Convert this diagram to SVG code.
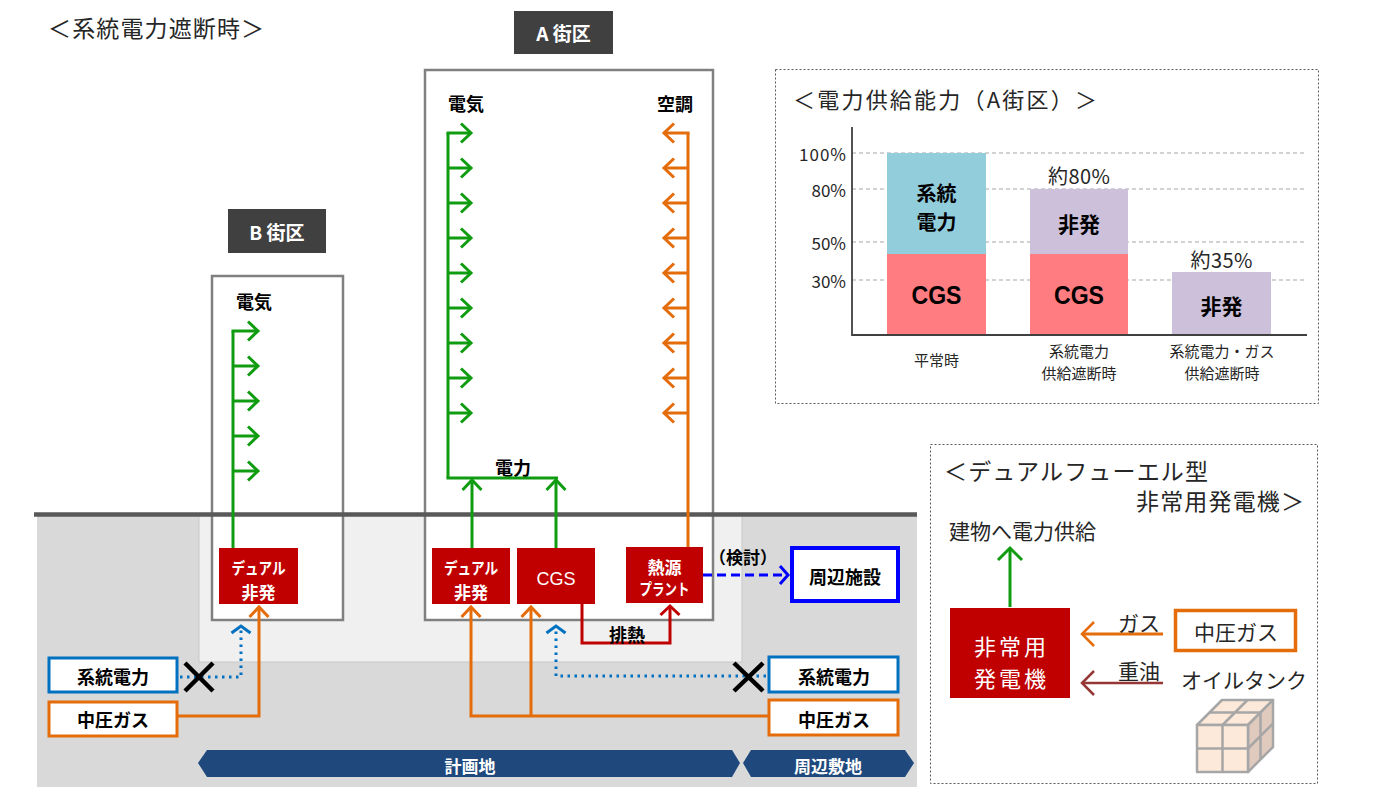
<svg xmlns="http://www.w3.org/2000/svg" width="1382" height="787" viewBox="0 0 1382 787">
  <defs>
    <style>
      text { font-family: "Noto Sans CJK JP", "Liberation Sans", sans-serif; dominant-baseline: central; }
      .b { font-weight: 700; }
      .w { fill: #ffffff; }
      .k { fill: #000000; }
      .g { fill: #262626; }
      .mid { text-anchor: middle; }
      .end { text-anchor: end; }
      .tag { fill: #404040; }
      .blk { fill: #ffffff; stroke: #808080; stroke-width: 2.5; }
      .red { fill: #c00000; }
      .ln-g { fill: none; stroke: #109c10; stroke-width: 3; }
      .ln-o { fill: none; stroke: #e46c0a; stroke-width: 3; }
      .ln-r { fill: none; stroke: #c00000; stroke-width: 3; }
      .ln-b { fill: none; stroke: #0070c0; stroke-width: 3; stroke-dasharray: 2.5 4.5; }
      .ln-d { fill: none; stroke: #0000ff; stroke-width: 3; stroke-dasharray: 9 5; }
      .ln-oil { fill: none; stroke: #953735; stroke-width: 2.5; }
      .xmark { stroke: #000000; stroke-width: 4.5; }
      .grid { stroke: #a6a6a6; stroke-width: 1.2; stroke-dasharray: 4 3; }
      .frame { fill: #ffffff; stroke: #595959; stroke-width: 1; stroke-dasharray: 2 2; }
      .tank { stroke: #a6a6a6; stroke-width: 2.5; stroke-linejoin: round; }
      .sans { font-family: "Liberation Sans", sans-serif; }
    </style>
    <marker id="ah-g" viewBox="-14 -14 28 28" markerWidth="28" markerHeight="28" refX="0" refY="0" orient="auto" markerUnits="userSpaceOnUse" overflow="visible">
      <path d="M-10,-9.5 L0,0 L-10,9.5" fill="none" stroke="#109c10" stroke-width="3"/>
    </marker>
    <marker id="ah-g2" viewBox="-14 -14 28 28" markerWidth="28" markerHeight="28" refX="0" refY="0" orient="auto" markerUnits="userSpaceOnUse" overflow="visible">
      <path d="M-12,-12 L0,0 L-12,12" fill="none" stroke="#109c10" stroke-width="3"/>
    </marker>
    <marker id="ah-o" viewBox="-14 -14 28 28" markerWidth="28" markerHeight="28" refX="0" refY="0" orient="auto" markerUnits="userSpaceOnUse" overflow="visible">
      <path d="M-10,-9.5 L0,0 L-10,9.5" fill="none" stroke="#e46c0a" stroke-width="3"/>
    </marker>
    <marker id="ah-o2" viewBox="-14 -14 28 28" markerWidth="28" markerHeight="28" refX="0" refY="0" orient="auto" markerUnits="userSpaceOnUse" overflow="visible">
      <path d="M-12,-12 L0,0 L-12,12" fill="none" stroke="#e46c0a" stroke-width="2.5"/>
    </marker>
    <marker id="ah-r" viewBox="-14 -14 28 28" markerWidth="28" markerHeight="28" refX="0" refY="0" orient="auto" markerUnits="userSpaceOnUse" overflow="visible">
      <path d="M-9,-9.5 L0,0 L-9,9.5" fill="none" stroke="#c00000" stroke-width="3"/>
    </marker>
    <marker id="ah-b" viewBox="-14 -14 28 28" markerWidth="28" markerHeight="28" refX="0" refY="0" orient="auto" markerUnits="userSpaceOnUse" overflow="visible">
      <path d="M-7,-9.5 L0,0 L-7,9.5" fill="none" stroke="#0070c0" stroke-width="3"/>
    </marker>
    <marker id="ah-d" viewBox="-14 -14 28 28" markerWidth="28" markerHeight="28" refX="0" refY="0" orient="auto" markerUnits="userSpaceOnUse" overflow="visible">
      <path d="M-8,-9 L0,0 L-8,9" fill="none" stroke="#0000ff" stroke-width="3"/>
    </marker>
    <marker id="ah-oil" viewBox="-14 -14 28 28" markerWidth="28" markerHeight="28" refX="0" refY="0" orient="auto" markerUnits="userSpaceOnUse" overflow="visible">
      <path d="M-12,-12 L0,0 L-12,12" fill="none" stroke="#953735" stroke-width="2.5"/>
    </marker>
  </defs>

  <rect x="0" y="0" width="1382" height="787" fill="#ffffff"/>

  <!-- site ground: grey band, light sub-panel -->
  <g id="ground">
    <rect x="37" y="515" width="880" height="272" fill="#d9d9d9"/>
    <rect x="199" y="515" width="543" height="147" fill="#f0f0f0" stroke="#c8c8c8" stroke-width="1"/>
  </g>

  <!-- title -->
  <text x="48" y="27" font-size="23" class="g" textLength="216" lengthAdjust="spacing">＜系統電力遮断時＞</text>

  <!-- block outlines -->
  <g id="block-b">
    <rect class="blk" x="212" y="276" width="131" height="344"/>
    <rect class="tag" x="228" y="209" width="98" height="44"/>
    <text x="277" y="231" font-size="19" class="b w mid">B 街区</text>
    <text x="254" y="301" font-size="18" class="b k mid">電気</text>
  </g>
  <g id="block-a">
    <rect class="blk" x="425" y="70" width="288" height="550"/>
    <rect class="tag" x="514" y="11" width="99" height="43"/>
    <text x="563.5" y="32" font-size="19" class="b w mid">A 街区</text>
    <text x="466" y="103" font-size="18" class="b k mid">電気</text>
    <text x="675" y="103" font-size="18" class="b k mid">空調</text>
    <text x="513" y="467" font-size="18" class="b k mid">電力</text>
  </g>

  <!-- ground line -->
  <line x1="34" y1="514.5" x2="917" y2="514.5" stroke="#595959" stroke-width="4.5"/>

  <!-- connectors -->
  <g id="connectors">
    <!-- block B power distribution -->
    <path class="ln-g" d="M233,548 V331"/>
    <line class="ln-g" x1="231.5" y1="331" x2="258" y2="331" marker-end="url(#ah-g)"/>
    <line class="ln-g" x1="233" y1="366" x2="258" y2="366" marker-end="url(#ah-g)"/>
    <line class="ln-g" x1="233" y1="401" x2="258" y2="401" marker-end="url(#ah-g)"/>
    <line class="ln-g" x1="233" y1="436" x2="258" y2="436" marker-end="url(#ah-g)"/>
    <line class="ln-g" x1="233" y1="471" x2="258" y2="471" marker-end="url(#ah-g)"/>

    <!-- block A power distribution -->
    <path class="ln-g" d="M448,478 V133"/>
    <line class="ln-g" x1="446.5" y1="133" x2="471" y2="133" marker-end="url(#ah-g)"/>
    <line class="ln-g" x1="448" y1="168" x2="471" y2="168" marker-end="url(#ah-g)"/>
    <line class="ln-g" x1="448" y1="203" x2="471" y2="203" marker-end="url(#ah-g)"/>
    <line class="ln-g" x1="448" y1="238" x2="471" y2="238" marker-end="url(#ah-g)"/>
    <line class="ln-g" x1="448" y1="273" x2="471" y2="273" marker-end="url(#ah-g)"/>
    <line class="ln-g" x1="448" y1="308" x2="471" y2="308" marker-end="url(#ah-g)"/>
    <line class="ln-g" x1="448" y1="343" x2="471" y2="343" marker-end="url(#ah-g)"/>
    <line class="ln-g" x1="448" y1="378" x2="471" y2="378" marker-end="url(#ah-g)"/>
    <line class="ln-g" x1="448" y1="413" x2="471" y2="413" marker-end="url(#ah-g)"/>
    <line class="ln-g" x1="446.5" y1="478" x2="558" y2="478"/>
    <line class="ln-g" x1="472" y1="548" x2="472" y2="480" marker-end="url(#ah-g)"/>
    <line class="ln-g" x1="556" y1="548" x2="556" y2="480" marker-end="url(#ah-g)"/>

    <!-- block A air conditioning -->
    <path class="ln-o" d="M688,547 V133"/>
    <line class="ln-o" x1="689.5" y1="133" x2="664" y2="133" marker-end="url(#ah-o)"/>
    <line class="ln-o" x1="688" y1="168" x2="664" y2="168" marker-end="url(#ah-o)"/>
    <line class="ln-o" x1="688" y1="203" x2="664" y2="203" marker-end="url(#ah-o)"/>
    <line class="ln-o" x1="688" y1="238" x2="664" y2="238" marker-end="url(#ah-o)"/>
    <line class="ln-o" x1="688" y1="273" x2="664" y2="273" marker-end="url(#ah-o)"/>
    <line class="ln-o" x1="688" y1="308" x2="664" y2="308" marker-end="url(#ah-o)"/>
    <line class="ln-o" x1="688" y1="343" x2="664" y2="343" marker-end="url(#ah-o)"/>
    <line class="ln-o" x1="688" y1="378" x2="664" y2="378" marker-end="url(#ah-o)"/>
    <line class="ln-o" x1="688" y1="413" x2="664" y2="413" marker-end="url(#ah-o)"/>

    <!-- supply lines, block B -->
    <path class="ln-b" d="M180,677 H241 V626" marker-end="url(#ah-b)"/>
    <path class="ln-o" d="M178,716 H259 V607" marker-end="url(#ah-o)"/>

    <!-- supply lines, block A -->
    <path class="ln-b" d="M766,676 H556 V626" marker-end="url(#ah-b)"/>
    <path class="ln-o" d="M768,716 H471 V607" marker-end="url(#ah-o)"/>
    <path class="ln-o" d="M531,716 V607" marker-end="url(#ah-o)"/>
    <path class="ln-r" d="M582,604 V643 H670 V606" marker-end="url(#ah-r)"/>
    <line class="ln-d" x1="703" y1="575" x2="788" y2="575" marker-end="url(#ah-d)"/>

    <!-- cut-off marks -->
    <path class="xmark" d="M185,663 L213,691 M185,691 L213,663"/>
    <path class="xmark" d="M734,663 L763,691 M734,691 L763,663"/>
  </g>

  <text x="627" y="634" font-size="18" class="b k mid">排熱</text>
  <text x="743" y="556" font-size="17" class="b k mid">（検討）</text>

  <!-- generator units -->
  <g id="b-dual">
    <rect class="red" x="219" y="548" width="79" height="56"/>
    <text x="258.5" y="567" font-size="16" class="b w mid" textLength="54" lengthAdjust="spacingAndGlyphs">デュアル</text>
    <text x="258.5" y="591" font-size="17" class="b w mid">非発</text>
  </g>
  <g id="a-dual">
    <rect class="red" x="432" y="548" width="78" height="56"/>
    <text x="471" y="567" font-size="16" class="b w mid" textLength="54" lengthAdjust="spacingAndGlyphs">デュアル</text>
    <text x="471" y="591" font-size="17" class="b w mid">非発</text>
  </g>
  <g id="a-cgs">
    <rect class="red" x="517" y="548" width="78" height="56"/>
    <text x="556" y="579" font-size="18" class="w mid sans">CGS</text>
  </g>
  <g id="a-heat">
    <rect class="red" x="626" y="547" width="77" height="56"/>
    <text x="664.5" y="566" font-size="17" class="b w mid">熱源</text>
    <text x="664.5" y="588" font-size="16" class="b w mid" textLength="50" lengthAdjust="spacingAndGlyphs">プラント</text>
  </g>
  <g id="nearby">
    <rect x="792" y="548" width="106" height="53" fill="#ffffff" stroke="#0000ff" stroke-width="4"/>
    <text x="845" y="576" font-size="18" class="b k mid">周辺施設</text>
  </g>

  <!-- utility sources -->
  <g id="grid-b">
    <rect x="49" y="658" width="128" height="34" fill="#ffffff" stroke="#0070c0" stroke-width="3"/>
    <text x="113" y="676" font-size="18" class="b k mid">系統電力</text>
  </g>
  <g id="gas-b">
    <rect x="49" y="702" width="128" height="34" fill="#ffffff" stroke="#e46c0a" stroke-width="3"/>
    <text x="113" y="719" font-size="18" class="b k mid">中圧ガス</text>
  </g>
  <g id="grid-a">
    <rect x="769" y="657" width="129" height="35" fill="#ffffff" stroke="#0070c0" stroke-width="3"/>
    <text x="834" y="676" font-size="18" class="b k mid">系統電力</text>
  </g>
  <g id="gas-a">
    <rect x="769" y="700" width="129" height="35" fill="#ffffff" stroke="#e46c0a" stroke-width="3"/>
    <text x="834" y="719" font-size="18" class="b k mid">中圧ガス</text>
  </g>

  <!-- area labels -->
  <g id="area-plan">
    <polygon points="198,763 207,750 732,750 740,763 732,777 207,777" fill="#1f497d"/>
    <text x="470" y="765" font-size="17" class="b w mid">計画地</text>
  </g>
  <g id="area-nearby">
    <polygon points="743,763 751,750 905,750 914,763 905,777 751,777" fill="#1f497d"/>
    <text x="828" y="765" font-size="17" class="b w mid">周辺敷地</text>
  </g>

  <!-- supply capacity chart -->
  <g id="chart">
    <rect class="frame" x="775.5" y="69.5" width="543" height="334"/>
    <text x="793" y="98" font-size="22" class="g" textLength="304" lengthAdjust="spacing">＜電力供給能力（A街区）＞</text>
    <line class="grid" x1="852" y1="153" x2="1307" y2="153"/>
    <line class="grid" x1="852" y1="189" x2="1307" y2="189"/>
    <line class="grid" x1="852" y1="242" x2="1307" y2="242"/>
    <line class="grid" x1="852" y1="280" x2="1307" y2="280"/>
    <text x="846" y="153" font-size="17" class="g end" textLength="47" lengthAdjust="spacing">100%</text>
    <text x="846" y="189" font-size="17" class="g end">80%</text>
    <text x="846" y="242" font-size="17" class="g end">50%</text>
    <text x="846" y="280" font-size="17" class="g end">30%</text>

    <rect x="887" y="153" width="99" height="101" fill="#92cddc"/>
    <rect x="887" y="254" width="99" height="81" fill="#ff7c80"/>
    <rect x="1030" y="189" width="98" height="65" fill="#ccc0da"/>
    <rect x="1030" y="254" width="98" height="81" fill="#ff7c80"/>
    <rect x="1172" y="272" width="99" height="63" fill="#ccc0da"/>

    <text x="936.5" y="192" font-size="20" class="b k mid">系統</text>
    <text x="936.5" y="221" font-size="20" class="b k mid">電力</text>
    <text x="936.5" y="295" font-size="25" class="b k mid sans" textLength="50" lengthAdjust="spacingAndGlyphs">CGS</text>
    <text x="1079" y="223" font-size="21" class="b k mid">非発</text>
    <text x="1079" y="295" font-size="25" class="b k mid sans" textLength="50" lengthAdjust="spacingAndGlyphs">CGS</text>
    <text x="1221.5" y="305" font-size="21" class="b k mid">非発</text>
    <text x="1079" y="175" font-size="20" class="g mid" textLength="62" lengthAdjust="spacing">約80%</text>
    <text x="1221.5" y="259" font-size="20" class="g mid" textLength="62" lengthAdjust="spacing">約35%</text>

    <path d="M852,127 V335 H1307" fill="none" stroke="#404040" stroke-width="1.8"/>

    <text x="936.5" y="359" font-size="15" class="g mid">平常時</text>
    <text x="1079" y="350" font-size="15" class="g mid">系統電力</text>
    <text x="1079" y="372" font-size="15" class="g mid">供給遮断時</text>
    <text x="1222" y="350" font-size="15" class="g mid">系統電力・ガス</text>
    <text x="1222" y="372" font-size="15" class="g mid">供給遮断時</text>
  </g>

  <!-- dual-fuel emergency generator -->
  <g id="dual-fuel">
    <rect class="frame" x="930.5" y="444.5" width="387" height="339"/>
    <text x="944" y="470" font-size="23" class="g" textLength="264" lengthAdjust="spacing">＜デュアルフューエル型</text>
    <text x="1136" y="500" font-size="23" class="g" textLength="168" lengthAdjust="spacing">非常用発電機＞</text>
    <text x="949" y="530" font-size="21" class="g">建物へ電力供給</text>
  </g>
  <g id="generator">
    <rect class="red" x="950" y="608" width="120" height="90"/>
    <text x="1010" y="645" font-size="22" class="w mid" textLength="72" lengthAdjust="spacing">非常用</text>
    <text x="1010" y="677" font-size="22" class="w mid" textLength="72" lengthAdjust="spacing">発電機</text>
  </g>
  <g id="gas-source">
    <rect x="1175.5" y="610.5" width="120" height="40" fill="#ffffff" stroke="#e46c0a" stroke-width="3.5"/>
    <text x="1236" y="631" font-size="21" class="g mid">中圧ガス</text>
  </g>
  <g id="oil-tank">
    <text x="1244" y="679" font-size="21" class="g mid">オイルタンク</text>
    <polygon class="tank" points="1197,725 1248,725 1273,700 1222,700" fill="#fde9d9"/>
    <polygon class="tank" points="1248,725 1273,700 1273,747 1248,772" fill="#dfcabd"/>
    <rect class="tank" x="1197" y="725" width="51" height="47" fill="#fde9d9"/>
    <path class="tank" fill="none" d="M1222.5,725 V772 M1197,748.5 H1248 M1222.5,725 L1247.5,700 M1209.5,712.5 H1260.5 M1260.5,712.5 V759.5 M1248,748.5 L1273,723.5"/>
  </g>
  <g id="dual-fuel-connectors">
    <line class="ln-g" x1="1010" y1="607" x2="1010" y2="548" marker-end="url(#ah-g2)"/>
    <line class="ln-o" x1="1163" y1="634" x2="1082" y2="634" stroke-width="2.5" marker-end="url(#ah-o2)"/>
    <line class="ln-oil" x1="1163" y1="683" x2="1082" y2="683" marker-end="url(#ah-oil)"/>
    <text x="1139" y="622" font-size="21" class="g mid">ガス</text>
    <text x="1139" y="670" font-size="21" class="g mid">重油</text>
  </g>
</svg>
